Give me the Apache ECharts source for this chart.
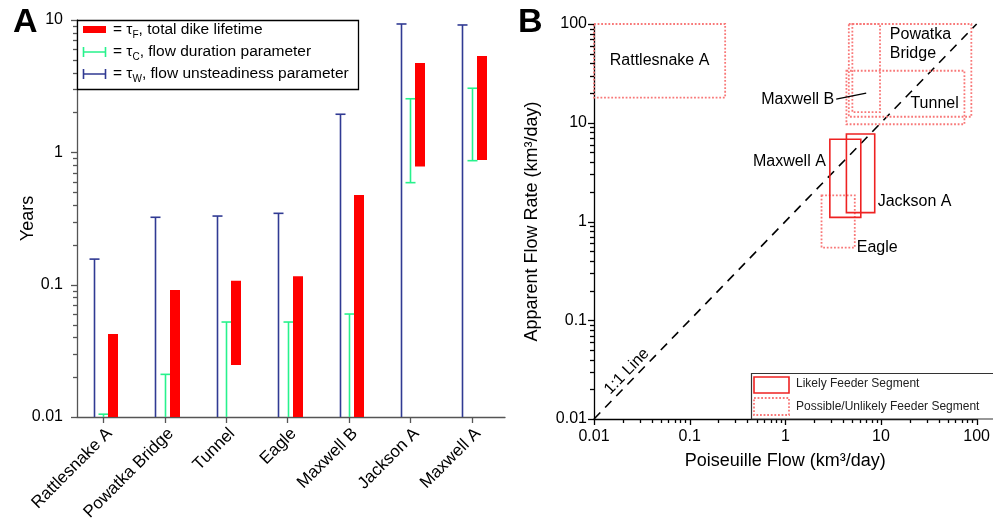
<!DOCTYPE html>
<html lang="en" style="height: 100%">
<head>
    <meta charset="UTF-8">
    <title>Dike time scales and feeder flow</title>
    <script src="https://cdn.jsdelivr.net/npm/echarts@6/dist/echarts.min.js"></script>
</head>
<body style="height: 100%; margin: 0">
<div id="main" style="width: 993px; height: 526px"></div>
<script>
    // panel A: time scales for each dike segment (years)
    var segments  = ['Rattlesnake A', 'Powatka Bridge', 'Tunnel', 'Eagle', 'Maxwell B', 'Jackson A', 'Maxwell A'];
    var tauF_low  = [0.01, 0.01, 0.0247, 0.01, 0.01, 0.78, 0.875];
    var tauF_high = [0.0424, 0.0912, 0.107, 0.116, 0.476, 4.73, 5.35];
    var tauC_low  = [0.01, 0.01, 0.01, 0.01, 0.01, 0.59, 0.865];
    var tauC_high = [0.0105, 0.021, 0.0522, 0.0522, 0.060, 2.54, 3.05];
    var tauW_low  = [0.01, 0.01, 0.01, 0.01, 0.01, 0.01, 0.01];
    var tauW_high = [0.156, 0.323, 0.330, 0.346, 1.94, 9.33, 9.17];
    var yearTicks = [0.01, 0.1, 1, 10];

    // panel B: flow ranges (km3/day)
    var feeders     = ['Rattlesnake A', 'Powatka Bridge', 'Maxwell B', 'Tunnel', 'Eagle', 'Maxwell A', 'Jackson A'];
    var poisMin     = [0.01, 4.61, 5.02, 4.35, 2.39, 2.92, 4.35];
    var poisMax     = [0.235, 88, 9.77, 74.5, 5.32, 6.15, 8.6];
    var apparentMin = [18, 11.5, 12.8, 9.66, 0.545, 1.10, 1.23];
    var apparentMax = [100, 100, 100, 33.6, 1.84, 6.80, 7.7];
    var likely      = [false, false, false, false, false, true, true];
    var flowTicks   = [0.01, 0.1, 1, 10, 100];
    var oneToOne    = [0.01, 100];

    var FONT = 'Liberation Sans, Arial, sans-serif';
    var BLUE = '#303a93', GREEN = '#27f28c', RED = '#ff0000';
    var BOX_SOLID = '#ee2222', BOX_DOT = '#f87878';

    // where each name sits relative to its box (corner fractions + pixel nudge)
    var labelSpots = {
        'Rattlesnake A':  {corner: [0.5, 0.5], dx: 0,   dy: 0,   align: 'center'},
        'Powatka Bridge': {corner: [0, 0],     dx: 41,  dy: 20,  align: 'left', text: 'Powatka\nBridge'},
        'Maxwell B':      {corner: [0.5, 1],   dx: -32, dy: -13, align: 'right', pointer: [32, -6]},
        'Tunnel':         {corner: [1, 1],     dx: -54, dy: -21, align: 'left'},
        'Eagle':          {corner: [1, 1],     dx: 2,   dy: 0,   align: 'left'},
        'Maxwell A':      {corner: [0, 0],     dx: -4,  dy: 22,  align: 'right'},
        'Jackson A':      {corner: [1, 1],     dx: 3,   dy: -11, align: 'left'}
    };

    // decade ticks plus 2..9 in between: [value, isMajor]
    function tickValues(decades) {
        var out = [];
        for (var d = 0; d < decades.length; d++) {
            out.push([decades[d], 1]);
            if (d === decades.length - 1) break;
            for (var m = 2; m <= 9; m++) out.push([+(decades[d] * m).toPrecision(6), 0]);
        }
        return out;
    }

    // tick marks on the left (y) or bottom (x) edge of a grid
    function tickSeries(xi, yi, vertical, anyVal, color, ticks) {
        return {
            type: 'custom', xAxisIndex: xi, yAxisIndex: yi, silent: true, clip: false, z: 5,
            renderItem: function (params, api) {
                var cs = params.coordSys;
                var len = api.value(1) ? 6 : 4;
                var st = {stroke: color, lineWidth: 1.3};
                if (vertical) {
                    var y = Math.round(api.coord([anyVal, api.value(0)])[1]) + 0.5;
                    return {type: 'line', shape: {x1: cs.x - len, y1: y, x2: cs.x, y2: y}, style: st};
                }
                var x = Math.round(api.coord([api.value(0), anyVal])[0]) + 0.5;
                var yb = cs.y + cs.height;
                return {type: 'line', shape: {x1: x, y1: yb, x2: x, y2: yb + len}, style: st};
            },
            data: ticks
        };
    }

    function capBar(dx, color) {
        return function (params, api) {
            var lo = api.coord([api.value(0), api.value(1)]);
            var hi = api.coord([api.value(0), api.value(2)]);
            var x = Math.round(hi[0] + dx) + 0.5;
            var st = {stroke: color, lineWidth: 1.6};
            var kids = [
                {type: 'line', shape: {x1: x, y1: lo[1], x2: x, y2: hi[1]}, style: st},
                {type: 'line', shape: {x1: x - 5, y1: hi[1], x2: x + 5, y2: hi[1]}, style: st}
            ];
            if (api.value(1) > yearTicks[0] * 1.01) {
                kids.push({type: 'line', shape: {x1: x - 5, y1: lo[1], x2: x + 5, y2: lo[1]}, style: st});
            }
            return {type: 'group', children: kids};
        };
    }

    function boxItem(dotted) {
        return function (params, api) {
            var a = api.coord([api.value(0), api.value(3)]);
            var b = api.coord([api.value(1), api.value(2)]);
            return {
                type: 'rect',
                shape: {x: a[0], y: a[1], width: b[0] - a[0], height: b[1] - a[1]},
                style: dotted
                    ? {fill: 'none', stroke: BOX_DOT, lineWidth: 1.8, lineDash: [1.8, 1.8]}
                    : {fill: 'none', stroke: BOX_SOLID, lineWidth: 1.6}
            };
        };
    }

    var boxData = feeders.map(function (n, i) {
        return {name: n, value: [poisMin[i], poisMax[i], apparentMin[i], apparentMax[i]]};
    });

    function logAxis(grid, min, max, extra) {
        var ax = {
            type: 'log', gridIndex: grid, min: min, max: max, logBase: 10,
            splitLine: {show: false},
            axisLine: {onZero: false, lineStyle: {color: '#000', width: 1.3}},
            axisTick: {show: false},
            axisLabel: {color: '#000', fontSize: 16, fontFamily: FONT}
        };
        for (var k in extra) ax[k] = extra[k];
        return ax;
    }

    var option = {
        animation: false,
        textStyle: {fontFamily: FONT},
        grid: [
            {left: 77, top: 20, width: 428, height: 397},
            {left: 594, top: 24, width: 385, height: 395}
        ],
        xAxis: [
            {
                type: 'value', gridIndex: 0, min: -0.43, max: 6.54,
                splitLine: {show: false},
                axisLine: {lineStyle: {color: '#555', width: 1.3}},
                axisTick: {show: true, length: 6, customValues: segments.map(function (s, i) { return i; }), lineStyle: {color: '#555', width: 1.3}},
                axisLabel: {
                    customValues: segments.map(function (s, i) { return i; }),
                    rotate: 45, margin: 8, verticalAlign: 'top', align: 'right',
                    color: '#000', fontSize: 17, fontFamily: FONT,
                    formatter: function (v) { return segments[Math.round(v)]; }
                }
            },
            logAxis(1, 0.01, 100, {
                name: 'Poiseuille Flow (km³/day)', nameLocation: 'middle', nameGap: 33,
                nameTextStyle: {fontSize: 18, color: '#000', fontFamily: FONT},
                axisLabel: {color: '#000', fontSize: 16, fontFamily: FONT, margin: 10}
            })
        ],
        yAxis: [
            {
                type: 'log', gridIndex: 0, min: 0.01, max: 10, logBase: 10,
                splitLine: {show: false},
                axisLine: {onZero: false, lineStyle: {color: '#555', width: 1.3}},
                axisTick: {show: false},
                axisLabel: {color: '#000', fontSize: 16, fontFamily: FONT, margin: 14},
                name: 'Years', nameLocation: 'middle', nameGap: 40, nameRotate: 90, nameMoveOverlap: false,
                nameTextStyle: {fontSize: 18, color: '#000', fontFamily: FONT}
            },
            logAxis(1, 0.01, 100, {
                name: 'Apparent Flow Rate (km³/day)', nameLocation: 'middle', nameGap: 53, nameRotate: 90,
                nameTextStyle: {fontSize: 18, color: '#000', fontFamily: FONT},
                axisLabel: {color: '#000', fontSize: 16, fontFamily: FONT, margin: 7}
            })
        ],
        series: [
            tickSeries(0, 0, true, 0, '#555', tickValues(yearTicks)),
            tickSeries(1, 1, true, 1, '#000', tickValues(flowTicks)),
            tickSeries(1, 1, false, 1, '#000', tickValues(flowTicks)),
            {
                name: 'tauW', type: 'custom', xAxisIndex: 0, yAxisIndex: 0,
                renderItem: capBar(-9.5, BLUE),
                data: segments.map(function (s, i) { return [i, tauW_low[i], tauW_high[i]]; })
            },
            {
                name: 'tauC', type: 'custom', xAxisIndex: 0, yAxisIndex: 0,
                renderItem: capBar(0, GREEN),
                data: segments.map(function (s, i) { return [i, tauC_low[i], tauC_high[i]]; })
            },
            {
                name: 'tauF', type: 'custom', xAxisIndex: 0, yAxisIndex: 0,
                renderItem: function (params, api) {
                    var lo = api.coord([api.value(0), api.value(1)]);
                    var hi = api.coord([api.value(0), api.value(2)]);
                    return {type: 'rect', shape: {x: Math.round(hi[0]) + 5, y: hi[1], width: 10, height: lo[1] - hi[1]}, style: {fill: RED}};
                },
                data: segments.map(function (s, i) { return [i, tauF_low[i], tauF_high[i]]; })
            },
            {
                name: 'oneToOne', type: 'custom', xAxisIndex: 1, yAxisIndex: 1,
                renderItem: function (params, api) {
                    var p0 = api.coord([api.value(0), api.value(0)]);
                    var p1 = api.coord([api.value(1), api.value(1)]);
                    var len = Math.sqrt(Math.pow(p1[0] - p0[0], 2) + Math.pow(p1[1] - p0[1], 2));
                    var ux = (p1[0] - p0[0]) / len, uy = (p1[1] - p0[1]) / len;
                    return {type: 'group', children: [
                        {type: 'line', shape: {x1: p0[0], y1: p0[1], x2: p1[0], y2: p1[1]},
                         style: {stroke: '#000', lineWidth: 1.6, lineDash: [9, 7]}},
                        {type: 'text', x: p0[0] + 57 * ux + 9.5 * uy, y: p0[1] + 57 * uy - 9.5 * ux,
                         rotation: Math.atan2(-(p1[1] - p0[1]), p1[0] - p0[0]),
                         style: {text: '1:1 Line', font: '16px ' + FONT, fill: '#000', align: 'center', verticalAlign: 'middle'}}
                    ]};
                },
                data: [oneToOne]
            },
            {
                name: 'possible', type: 'custom', xAxisIndex: 1, yAxisIndex: 1,
                renderItem: boxItem(true),
                data: boxData.filter(function (d, i) { return !likely[i]; })
            },
            {
                name: 'likely', type: 'custom', xAxisIndex: 1, yAxisIndex: 1,
                renderItem: boxItem(false),
                data: boxData.filter(function (d, i) { return likely[i]; })
            },
            {
                name: 'labels', type: 'custom', xAxisIndex: 1, yAxisIndex: 1,
                renderItem: function (params, api) {
                    var name = feeders[params.dataIndex];
                    var spot = labelSpots[name];
                    var a = api.coord([api.value(0), api.value(3)]);
                    var b = api.coord([api.value(1), api.value(2)]);
                    var x = a[0] + (b[0] - a[0]) * spot.corner[0] + spot.dx;
                    var y = a[1] + (b[1] - a[1]) * spot.corner[1] + spot.dy;
                    var kids = [{type: 'text', x: x, y: y, style: {
                        text: spot.text || name, font: '16px ' + FONT, fill: '#000',
                        align: spot.align, verticalAlign: 'middle', lineHeight: 19}}];
                    if (spot.pointer) {
                        kids.push({type: 'line', shape: {x1: x + 2, y1: y, x2: x + spot.pointer[0], y2: y + spot.pointer[1]},
                                   style: {stroke: '#000', lineWidth: 1.1}});
                    }
                    return {type: 'group', children: kids};
                },
                data: boxData
            }
        ],
        graphic: [
            {type: 'text', x: 13, y: 23, style: {text: 'A', font: 'bold 34px ' + FONT, fill: '#000', verticalAlign: 'middle'}},
            {type: 'text', x: 518, y: 23, style: {text: 'B', font: 'bold 34px ' + FONT, fill: '#000', verticalAlign: 'middle'}},
            // legend, panel A
            {type: 'rect', shape: {x: 77.5, y: 20.5, width: 281, height: 69}, style: {fill: '#fff', stroke: '#000', lineWidth: 1.3}, z: 10},
            {type: 'rect', shape: {x: 83, y: 26, width: 23, height: 7}, style: {fill: RED}, z: 11},
            {type: 'polyline', shape: {points: [[83.5, 47], [83.5, 57], [83.5, 52], [105.5, 52], [105.5, 47], [105.5, 57]]}, style: {stroke: GREEN, lineWidth: 1.6, fill: 'none'}, z: 11},
            {type: 'polyline', shape: {points: [[83.5, 69], [83.5, 79], [83.5, 74], [105.5, 74], [105.5, 69], [105.5, 79]]}, style: {stroke: BLUE, lineWidth: 1.6, fill: 'none'}, z: 11},
            {type: 'text', x: 113, y: 30, z: 11, style: {text: '= τ{s|F}, total dike lifetime', font: '15.5px ' + FONT, fill: '#000', verticalAlign: 'middle', rich: {s: {fontSize: 10, lineHeight: 10, padding: [11, 0, 0, 0], fontFamily: FONT}}}},
            {type: 'text', x: 113, y: 52, z: 11, style: {text: '= τ{s|C}, flow duration parameter', font: '15.5px ' + FONT, fill: '#000', verticalAlign: 'middle', rich: {s: {fontSize: 10, lineHeight: 10, padding: [11, 0, 0, 0], fontFamily: FONT}}}},
            {type: 'text', x: 113, y: 74, z: 11, style: {text: '= τ{s|W}, flow unsteadiness parameter', font: '15.5px ' + FONT, fill: '#000', verticalAlign: 'middle', rich: {s: {fontSize: 10, lineHeight: 10, padding: [11, 0, 0, 0], fontFamily: FONT}}}},
            // legend, panel B
            {type: 'rect', shape: {x: 751.5, y: 373.5, width: 260, height: 45.5}, style: {fill: '#fff', stroke: '#333', lineWidth: 1.2}, z: 10},
            {type: 'rect', shape: {x: 754, y: 377, width: 35, height: 16}, style: {fill: 'none', stroke: BOX_SOLID, lineWidth: 1.6}, z: 11},
            {type: 'rect', shape: {x: 754, y: 398, width: 35, height: 17}, style: {fill: 'none', stroke: BOX_DOT, lineWidth: 1.8, lineDash: [1.8, 1.8]}, z: 11},
            {type: 'text', x: 796, y: 384, z: 11, style: {text: 'Likely Feeder Segment', font: '12px ' + FONT, fill: '#222', verticalAlign: 'middle'}},
            {type: 'text', x: 796, y: 407, z: 11, style: {text: 'Possible/Unlikely Feeder Segment', font: '12px ' + FONT, fill: '#222', verticalAlign: 'middle'}}
        ]
    };

    var myChart = echarts.init(document.getElementById('main'));
    myChart.setOption(option);
</script>
</body>
</html>
